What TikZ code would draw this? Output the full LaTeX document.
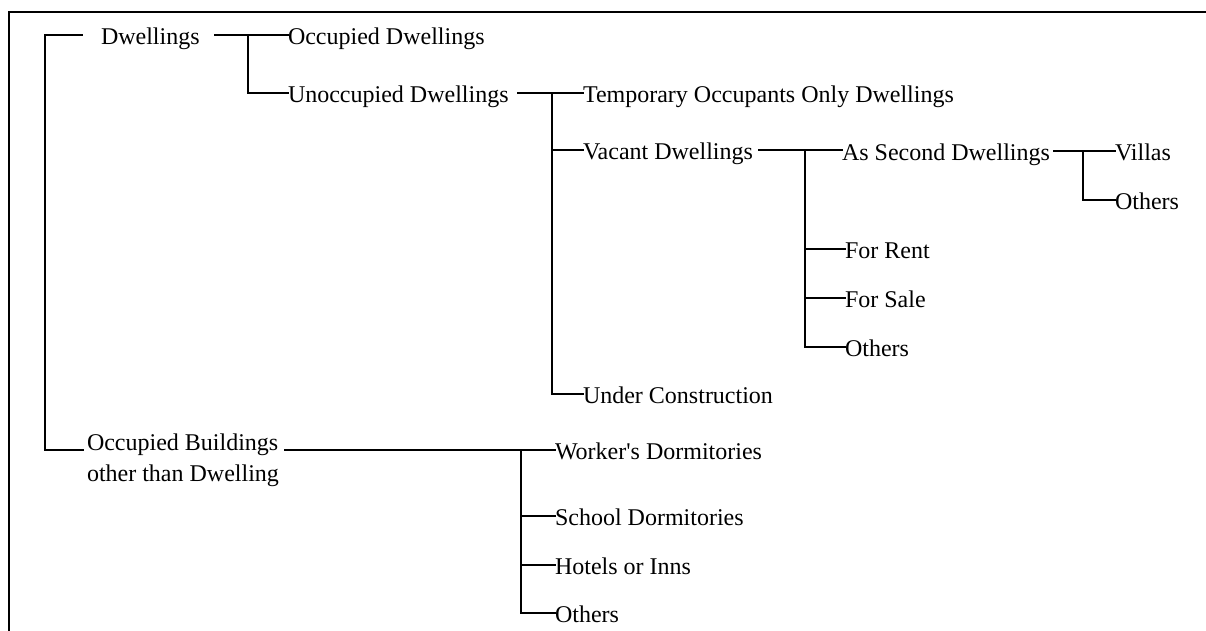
\documentclass[tikz,border=0pt]{standalone}
\usepackage{fontspec}
\setmainfont{Liberation Serif}[Ligatures=TeXOff]
\begin{document}
\begin{tikzpicture}[x=1pt,y=-1pt,
  lbl/.style={anchor=west,inner sep=0pt,outer sep=0pt,text height=18pt,text depth=0pt,font=\fontsize{24}{30}\selectfont},
  lblb/.style={anchor=base west,inner sep=0pt,outer sep=0pt,font=\fontsize{24}{30}\selectfont},
  conn/.style={line width=2.6pt,line cap=rect},
  frame/.style={line width=2.8pt}]
\useasboundingbox (0,0) rectangle (1206,630);
% frame
\draw[frame] (9,631) -- (9,12) -- (1207,12);
% nodes
\node[lbl] (dw) at (101,35) {Dwellings};
\node[lbl] (occ) at (288,35) {Occupied Dwellings};
\node[lbl] (unocc) at (288,93) {Unoccupied Dwellings};
\node[lbl] (temp) at (583,93) {Temporary Occupants Only Dwellings};
\node[lbl] (vac) at (583,150) {Vacant Dwellings};
\node[lbl] (uc) at (583,394) {Under Construction};
\node[lbl] (asd) at (842,151) {As Second Dwellings};
\node[lbl] (villas) at (1115,151) {Villas};
\node[lbl] (oth1) at (1115,200) {Others};
\node[lbl] (rent) at (845,249) {For Rent};
\node[lbl] (sale) at (845,298) {For Sale};
\node[lbl] (oth2) at (845,347) {Others};
\node[lblb] (ob1) at (87,450) {Occupied Buildings};
\node[lblb] (ob2) at (87,481) {other than Dwelling};
\node[lbl] (wd) at (555,450) {Worker's Dormitories};
\node[lbl] (sd) at (555,516) {School Dormitories};
\node[lbl] (hi) at (555,565) {Hotels or Inns};
\node[lbl] (oth3) at (555,613) {Others};
% connectors
\draw[conn] ([xshift=-19pt]dw.west) -- ++(-37,0) |- ([xshift=-4pt]ob1.base west);
\draw[conn] ([xshift=16pt]dw.east) -- (occ.west);
\draw[conn] (occ.west) ++(-40,0) |- (unocc.west);
\draw[conn] ([xshift=10pt]unocc.east) -- (temp.west);
\draw[conn] (temp.west) ++(-31,0) |- (vac.west);
\draw[conn] (temp.west) ++(-31,0) |- (uc.west);
\draw[conn] ([xshift=6pt]vac.east) -- (vac.east -| asd.west);
\draw[conn] (asd.west) ++(-37,0) |- (rent.west);
\draw[conn] (asd.west) ++(-37,0) |- (sale.west);
\draw[conn] (asd.west) ++(-37,0) |- (oth2.west);
\draw[conn] ([xshift=4pt]asd.east) -- (villas.west);
\draw[conn] (villas.west) ++(-32,0) |- (oth1.west);
\draw[conn] ([xshift=7pt]ob1.base east) -- (wd.west);
\draw[conn] (wd.west) ++(-34,0) |- (sd.west);
\draw[conn] (wd.west) ++(-34,0) |- (hi.west);
\draw[conn] (wd.west) ++(-34,0) |- (oth3.west);
\end{tikzpicture}
\end{document}
